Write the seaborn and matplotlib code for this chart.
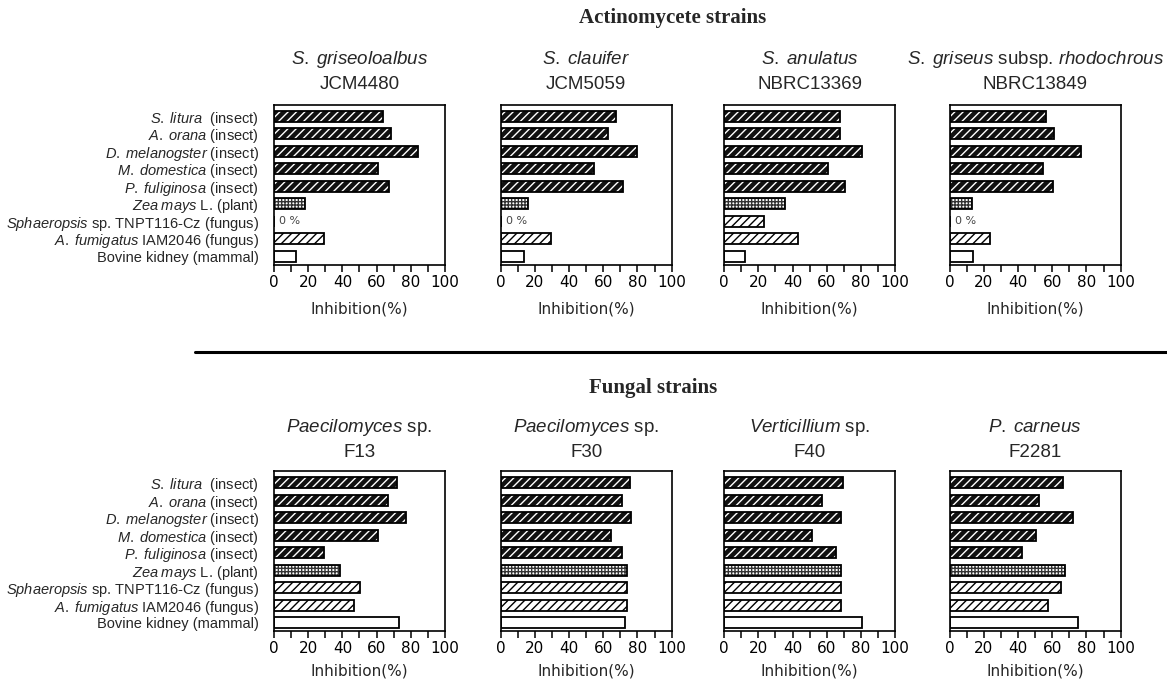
import matplotlib
matplotlib.use("Agg")
import matplotlib.pyplot as plt
from matplotlib.lines import Line2D
from matplotlib.ticker import MultipleLocator
import seaborn as sns

# target organisms (rows of every panel)
targets = ["S. litura", "A. orana", "D. melanogster", "M. domestica", "P. fuliginosa",
           "Zea mays", "Sphaeropsis", "A. fumigatus", "Bovine kidney"]
target_labels = [r"$\it{S.\;litura}$  (insect)",
                 r"$\it{A.\;orana}$ (insect)",
                 r"$\it{D.\;melanogster}$ (insect)",
                 r"$\it{M.\;domestica}$ (insect)",
                 r"$\it{P.\;fuliginosa}$ (insect)",
                 r"$\it{Zea\;mays}$ L. (plant)",
                 r"$\it{Sphaeropsis}$ sp. TNPT116-Cz (fungus)",
                 r"$\it{A.\;fumigatus}$ IAM2046 (fungus)",
                 "Bovine kidney (mammal)"]
target_group = ["insect"] * 5 + ["plant", "fungus", "fungus", "mammal"]

# actinomycete strains
actino_names = [r"$\it{S.\;griseoloalbus}$", r"$\it{S.\;clauifer}$",
                r"$\it{S.\;anulatus}$", r"$\it{S.\;griseus}$ subsp. $\it{rhodochrous}$"]
actino_ids = ["JCM4480", "JCM5059", "NBRC13369", "NBRC13849"]
jcm4480 = [64, 68.5, 84, 61, 67.5, 18, 0, 29, 13]
jcm5059 = [67.5, 63, 80, 54.5, 71.5, 16, 0, 29.5, 13.5]
nbrc13369 = [67.5, 67.5, 80.5, 61, 70.5, 35.5, 23.5, 43, 12.5]
nbrc13849 = [56.5, 61, 77, 54.5, 60.5, 13, 0, 23.5, 13.5]

# fungal strains
fungal_names = [r"$\it{Paecilomyces}$ sp.", r"$\it{Paecilomyces}$ sp.",
                r"$\it{Verticillium}$ sp.", r"$\it{P.\;carneus}$"]
fungal_ids = ["F13", "F30", "F40", "F2281"]
f13 = [72, 66.5, 77, 61, 29.5, 38.5, 50.5, 47, 73]
f30 = [75.5, 71, 76, 64.5, 71, 74, 74, 74, 72.5]
f40 = [69.5, 57.5, 68.5, 51.5, 65.5, 68.5, 68.5, 68.5, 80.5]
f2281 = [66.5, 52.5, 72, 50.5, 42.5, 67.5, 65, 57.5, 75]

sns.set_style("ticks")
plt.rcParams["font.family"] = ["Liberation Sans", "DejaVu Sans"]
plt.rcParams["mathtext.fontset"] = "custom"
plt.rcParams["mathtext.rm"] = "Liberation Sans"
plt.rcParams["mathtext.it"] = "Liberation Sans:italic"
plt.rcParams["hatch.linewidth"] = 1.0

styles = {
    "insect": dict(facecolor="#111111", edgecolor="white", hatch="////"),
    "plant": dict(facecolor="white", edgecolor="#333333", hatch="+++++"),
    "fungus": dict(facecolor="white", edgecolor="black", hatch="////"),
    "mammal": dict(facecolor="white", edgecolor="white", hatch=None),
}

fig = plt.figure(figsize=(11.67, 6.81), dpi=100)

lefts = [0.2348, 0.4290, 0.6205, 0.8138]
width = 0.1465
rows = [
    (0.6115, actino_names, actino_ids, [jcm4480, jcm5059, nbrc13369, nbrc13849], 1.281, 1.125, 8),
    (0.0735, fungal_names, fungal_ids, [f13, f30, f40, f2281], 1.269, 1.112, 5),
]

for bottom, names, ids, series, t1, t2, lpad in rows:
    for k, (left, vals) in enumerate(zip(lefts, series)):
        ax = fig.add_axes([left, bottom, width, 0.235])
        sns.barplot(x=vals, y=targets, order=targets, color="white", width=0.63,
                    orient="h", linewidth=0, ax=ax)
        for patch, grp in zip(ax.containers[0], target_group):
            st = styles[grp]
            patch.set_facecolor(st["facecolor"])
            patch.set_edgecolor(st["edgecolor"])
            patch.set_hatch(st["hatch"])
            patch.set_linewidth(0)
        # black outline on top of the hatching
        sns.barplot(x=vals, y=targets, order=targets, color="white", width=0.63,
                    orient="h", ax=ax)
        for patch in ax.containers[1]:
            patch.set_facecolor("none")
            patch.set_edgecolor("black")
            patch.set_linewidth(1.3)
        for i, v in enumerate(vals):
            if v == 0:
                ax.text(v + 3, i, "0 %", va="center", ha="left", fontsize=8,
                        color="#444444", family="DejaVu Sans")

        ax.set_xlim(0, 100)
        ax.set_ylim(8.47, -0.67)
        ax.xaxis.set_major_locator(MultipleLocator(20))
        ax.xaxis.set_minor_locator(MultipleLocator(10))
        ax.tick_params(axis="x", which="both", length=5, width=1.1, direction="out",
                       pad=2.5, labelsize=11, colors="black",
                       labelfontfamily="DejaVu Sans")
        ax.tick_params(axis="y", length=0, pad=11, labelsize=10.5)
        if k == 0:
            ax.set_yticks(range(len(targets)))
            ax.set_yticklabels(target_labels)
        else:
            ax.set_yticklabels([])
        ax.set_ylabel("")
        ax.set_xlabel("Inhibition(%)", fontsize=11, family="DejaVu Sans", labelpad=lpad)
        for sp in ax.spines.values():
            sp.set_visible(True)
            sp.set_linewidth(1.2)
            sp.set_color("black")
        ax.text(0.5, t1, names[k], transform=ax.transAxes, ha="center", va="center",
                fontsize=13.5)
        ax.text(0.5, t2, ids[k], transform=ax.transAxes, ha="center", va="center",
                fontsize=13.5)

fig.text(673 / 1167, 1 - 18 / 681, "Actinomycete strains", ha="center", va="center",
         fontsize=15, fontweight="bold", family="Liberation Serif")
fig.text(653 / 1167, 1 - 388 / 681, "Fungal strains", ha="center", va="center",
         fontsize=15, fontweight="bold", family="Liberation Serif")
fig.add_artist(Line2D([195 / 1167, 1.0], [1 - 351.7 / 681] * 2, color="black", lw=2.2))

fig.savefig("out.png", dpi=100)
